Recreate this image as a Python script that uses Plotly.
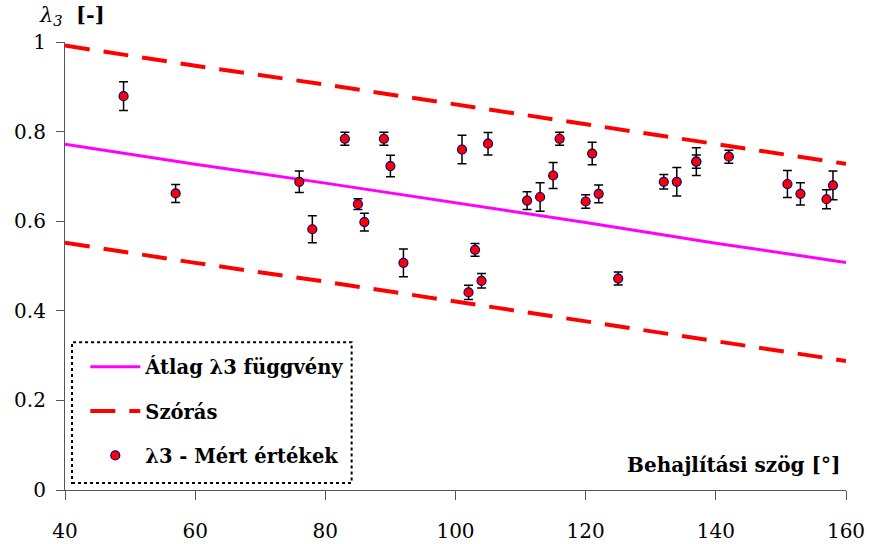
import plotly.graph_objects as go

# Measured values
angle = [49, 57, 76, 78, 83, 85, 86, 89, 90, 92, 101, 102, 103, 104, 105,
         111, 113, 115, 116, 120, 121, 122, 125, 132, 134, 137, 137, 142,
         151, 153, 157, 158]
lam3 = [0.879, 0.662, 0.688, 0.582, 0.784, 0.638, 0.598, 0.784, 0.723, 0.507,
        0.760, 0.441, 0.536, 0.467, 0.773, 0.646, 0.654, 0.702, 0.784, 0.644,
        0.751, 0.661, 0.472, 0.688, 0.688, 0.733, 0.733, 0.744, 0.683, 0.661,
        0.649, 0.680]
lam3_err = [0.032, 0.020, 0.024, 0.030, 0.0145, 0.012, 0.020, 0.0145, 0.024, 0.031,
            0.032, 0.016, 0.014, 0.016, 0.025, 0.020, 0.032, 0.029, 0.0145, 0.015,
            0.025, 0.020, 0.0145, 0.016, 0.032, 0.031, 0.015, 0.0145, 0.030, 0.025,
            0.021, 0.032]

# Mean function and scatter band
fx = [40, 60, 80, 100, 120, 140, 160]
mean_y = [0.772, 0.727, 0.685, 0.641, 0.597, 0.551, 0.508]
upper_y = [0.992, 0.947, 0.905, 0.861, 0.817, 0.771, 0.728]
lower_y = [0.552, 0.507, 0.465, 0.421, 0.377, 0.331, 0.288]

x_ticks = [40, 60, 80, 100, 120, 140, 160]
y_ticks = [0, 0.2, 0.4, 0.6, 0.8, 1]
y_tick_text = ["0", "0.2", "0.4", "0.6", "0.8", "1"]

FONT = "DejaVu Serif"

fig = go.Figure()
fig.add_trace(go.Scatter(x=fx, y=mean_y, mode="lines", name="<b>Átlag λ3 függvény</b>",
                         line=dict(color="#FF00FF", width=3), legendgroup="a"))
fig.add_trace(go.Scatter(x=fx, y=upper_y, mode="lines", name="<b>Szórás</b>",
                         line=dict(color="#FF0000", width=4, dash="25px,14px"),
                         legendgroup="b"))
fig.add_trace(go.Scatter(x=fx, y=lower_y, mode="lines", name="Szórás", showlegend=False,
                         line=dict(color="#FF0000", width=4, dash="25px,14px"),
                         legendgroup="b"))
fig.add_trace(go.Scatter(x=angle, y=lam3, mode="markers", name="<b>λ3 - Mért értékek</b>",
                         marker=dict(color="#FF0000", size=9,
                                     line=dict(color="#000080", width=1.2)),
                         error_y=dict(type="data", array=lam3_err, color="#000000",
                                      thickness=1.5, width=4.5),
                         legendgroup="c"))

fig.add_shape(type="rect", xref="paper", yref="paper", x0=0.009, x1=0.367,
              y0=0.0156, y1=0.330, line=dict(color="black", width=2, dash="dot"),
              fillcolor="rgba(0,0,0,0)")

fig.add_annotation(xref="paper", yref="paper", x=-0.036, y=1.06, xanchor="left",
                   yanchor="middle", showarrow=False,
                   text="<i>λ<sub>3</sub></i>  <b>[-]</b>",
                   font=dict(family=FONT, size=21, color="black"))
fig.add_annotation(xref="paper", yref="paper", x=0.995, y=0.056, xanchor="right",
                   yanchor="middle", showarrow=False,
                   text="<b>Behajlítási szög [°]</b>",
                   font=dict(family=FONT, size=20, color="black"))

fig.update_layout(
    width=869, height=544,
    margin=dict(l=65, r=23, t=42, b=54, autoexpand=False),
    paper_bgcolor="white", plot_bgcolor="white",
    font=dict(family=FONT, size=20, color="black"),
    showlegend=True,
    legend=dict(x=0.026, y=0.318, xanchor="left", yanchor="top",
                bgcolor="rgba(0,0,0,0)", font=dict(family=FONT, size=19.5, color="black"),
                tracegroupgap=16, itemwidth=50,
                traceorder="grouped"),
    xaxis=dict(range=[40, 160], tickvals=x_ticks, showgrid=False, zeroline=False,
               showline=True, linecolor="#555555", linewidth=1.2, automargin=False,
               ticks="outside", ticklen=9, tickcolor="#555555",
               ticklabelstandoff=14, tickfont=dict(family=FONT, size=20)),
    yaxis=dict(range=[0, 1], tickvals=y_ticks, ticktext=y_tick_text, showgrid=False,
               zeroline=False, showline=True, linecolor="#555555", linewidth=1.2,
               automargin=False,
               ticks="outside", ticklen=8, tickcolor="#555555",
               ticklabelstandoff=6, tickfont=dict(family=FONT, size=20)),
)

fig.write_html("out.html")
